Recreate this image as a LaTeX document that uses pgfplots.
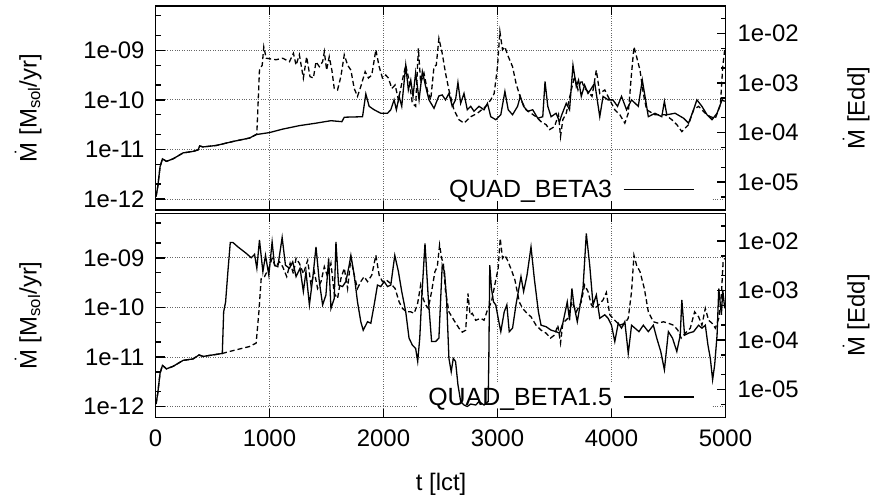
\documentclass[border=0pt]{standalone}
\usepackage{fontspec}
\setmainfont{Liberation Sans}
\usepackage{pgfplots}
\pgfplotsset{compat=1.18}

\pgfplotsset{
  every axis/.append style={font=\fontsize{24}{28}\selectfont},
  common/.style={
    scale only axis, width=570bp, height=204bp,
    xmin=0, xmax=5000,
    tick align=inside,
    major tick length=9bp, minor tick length=5bp,
    tick style={black, line width=1.4bp},
    axis line style={line width=1.8bp},
    clip=true,
  },
  gridax/.style={
    scale only axis, width=570bp, height=204bp,
    xmin=0, xmax=5000, ymin=-12.222, ymax=-8.106,
    xtick={1000,2000,3000,4000}, ytick={-12,-11,-10,-9},
    xticklabels={}, yticklabels={},
    grid=major, major grid style={dotted, black!60, line width=0.8bp},
    axis line style={draw=none}, tick style={draw=none},
  },
  ytickax/.style={
    common, ymin=-12.222, ymax=-8.106,
    axis line style={draw=none},
    xtick=\empty, ytick pos=left,
    ytick={-12,-11,-10,-9}, yticklabels={},
    minor ytick={-11.699,-11.301,-10.699,-10.301,-9.699,-9.301,-8.699,-8.301},
  },
  xtickax/.style={
    common, ymin=-12.222, ymax=-8.106,
    axis line style={draw=none},
    ytick=\empty, xtick pos=both,
    xtick={1000,2000,3000,4000}, xticklabels={},
  },
  panel/.style={
    common,
    ymin=-12.222, ymax=-8.106,
    xtick={0,1000,2000,3000,4000,5000},
    ytick={-12,-11,-10,-9}, yticklabels={1e-12,1e-11,1e-10,1e-09},
    ytick pos=left, xtick pos=both,
    yticklabel style={xshift=-7.5bp},
    ylabel={$\dot{\mbox{M}}$ [M\textsubscript{sol}/yr]},
    ylabel style={at={(axis description cs:-0.2237,0.5)}, anchor=center},
    legend style={draw=none, fill=none, legend plot pos=right, legend cell align=right,
      anchor=east, inner sep=0pt, row sep=0pt, column sep=9bp,
      font=\fontsize{25}{29}\selectfont},
    legend image code/.code={\draw[#1] (0bp,0bp) -- (70bp,0bp);},
  },
  rpanel/.style={
    common,
    ymin=-5.562, ymax=-1.446,
    axis line style={draw=none},
    xtick=\empty, ytick pos=right,
    ytick={-5,-4,-3,-2}, yticklabels={1e-05,1e-04,1e-03,1e-02},
    minor ytick={-5.301,-4.699,-4.301,-3.699,-3.301,-2.699,-2.301,-1.699},
    yticklabel style={xshift=8.5bp},
    ylabel={$\dot{\mbox{M}}$ [Edd]},
    ylabel style={at={(axis description cs:1.229,0.5)}, anchor=center},
  },
  sline/.style={black, line width=1.3bp, solid},
  dline/.style={black, line width=1.3bp, dash pattern=on 5bp off 3bp},
}

\begin{document}
\begin{tikzpicture}
% ---------------- top panel ----------------
\begin{axis}[gridax, at={(0,207.5bp)}, anchor=south west]
\end{axis}
\begin{axis}[panel, at={(0,207.5bp)}, anchor=south west, xticklabels={},
  legend style={at={(axis description cs:0.9456,0.10)}}]
\fill[white] (axis cs:2496,-12.04) rectangle (axis cs:4882,-11.536);
\addplot[dline, forget plot] table {
5 -11.95
20 -11.75
40 -11.35
61 -11.19
96 -11.24
154 -11.19
242 -11.07
329 -11.04
373 -11.01
388 -10.93
417 -10.95
533 -10.92
679 -10.84
825 -10.77
883 -10.70
889 -10.68
912 -9.40
936 -9.30
950 -8.93
971 -9.16
1058 -9.19
1116 -9.16
1175 -9.23
1210 -9.06
1233 -9.30
1262 -9.09
1297 -9.56
1326 -9.13
1355 -9.53
1385 -9.56
1408 -9.23
1437 -9.33
1466 -9.23
1481 -9.03
1501 -9.40
1524 -9.13
1547 -9.40
1568 -9.77
1597 -9.80
1626 -9.53
1656 -9.09
1685 -9.30
1714 -9.40
1743 -9.77
1772 -9.93
1801 -9.73
1839 -9.43
1868 -9.56
1897 -9.50
1933 -8.99
1962 -9.33
1991 -9.56
2020 -9.50
2043 -9.56
2073 -9.77
2102 -9.70
2131 -10.00
2166 -9.60
2195 -9.30
2224 -9.60
2253 -10.07
2282 -10.13
2306 -8.96
2326 -9.66
2355 -9.46
2384 -9.80
2414 -10.00
2443 -9.33
2463 -9.30
2486 -8.76
2515 -9.06
2544 -9.46
2574 -9.80
2618 -10.20
2662 -10.40
2706 -10.47
2765 -10.34
2824 -10.27
2897 -10.13
2941 -10.00
2971 -9.87
3000 -9.33
3021 -8.62
3044 -8.99
3065 -8.93
3088 -9.09
3132 -9.33
3162 -9.66
3206 -10.00
3250 -10.20
3294 -10.27
3338 -10.34
3382 -10.44
3426 -10.50
3456 -10.60
3500 -10.54
3535 -10.30
3553 -10.74
3573 -10.40
3603 -10.27
3647 -9.80
3676 -9.53
3706 -9.80
3735 -9.60
3764 -9.77
3794 -9.83
3829 -9.93
3867 -9.40
3897 -9.87
3941 -9.80
3985 -10.00
4029 -10.20
4073 -10.30
4117 -10.47
4147 -10.27
4176 -9.46
4197 -8.93
4220 -9.13
4250 -9.40
4279 -9.87
4308 -10.20
4382 -10.30
4470 -10.30
4529 -10.40
4573 -10.50
4617 -10.64
4676 -10.50
4720 -10.20
4764 -10.13
4823 -10.27
4867 -10.34
4911 -10.37
4955 -10.10
4976 -9.33
4993 -8.99
};
\addplot[sline] table {
5 -11.95
20 -11.75
40 -11.35
61 -11.19
96 -11.24
154 -11.19
242 -11.07
329 -11.04
373 -11.01
388 -10.93
417 -10.95
533 -10.92
679 -10.84
825 -10.77
883 -10.70
1000 -10.66
1116 -10.59
1262 -10.52
1408 -10.47
1539 -10.42
1635 -10.44
1656 -10.35
1816 -10.34
1845 -9.88
1874 -10.13
1918 -10.20
1976 -10.27
2035 -10.27
2064 -10.20
2093 -10.00
2113 -10.20
2137 -9.93
2160 -10.13
2195 -9.30
2218 -9.80
2239 -9.60
2259 -9.93
2282 -9.45
2312 -10.00
2341 -9.43
2370 -9.73
2399 -10.00
2443 -10.17
2486 -9.92
2515 -9.90
2544 -10.00
2574 -9.87
2603 -10.13
2632 -10.00
2653 -9.65
2677 -10.07
2706 -9.87
2735 -10.20
2765 -10.13
2794 -10.23
2838 -10.13
2882 -10.20
2912 -10.07
2941 -10.34
2985 -10.40
3029 -10.30
3065 -9.83
3094 -10.20
3132 -10.30
3176 -10.13
3200 -9.93
3229 -10.13
3265 -10.23
3309 -10.20
3353 -10.37
3397 -10.34
3417 -9.63
3441 -10.13
3470 -10.34
3514 -10.27
3544 -10.44
3564 -10.30
3603 -10.07
3632 -10.20
3662 -9.30
3691 -9.73
3711 -9.60
3735 -9.93
3764 -9.70
3794 -9.87
3823 -9.77
3853 -9.66
3897 -10.34
3926 -9.93
3970 -10.00
4012 -10.00
4053 -10.13
4088 -9.93
4132 -10.20
4176 -10.00
4235 -10.13
4270 -9.60
4299 -10.00
4323 -10.34
4382 -10.27
4441 -10.34
4464 -10.03
4485 -10.30
4558 -10.27
4632 -10.37
4676 -10.47
4720 -10.20
4749 -10.00
4793 -10.13
4838 -10.30
4882 -10.40
4926 -10.27
4970 -10.00
4993 -10.03
};
\addlegendentry{QUAD\_BETA3}
\end{axis}
\begin{axis}[ytickax, at={(0,207.5bp)}, anchor=south west]
\end{axis}
\begin{axis}[xtickax, at={(0,207.5bp)}, anchor=south west]
\end{axis}
\begin{axis}[rpanel, at={(0,207.5bp)}, anchor=south west]
\end{axis}
% ---------------- bottom panel ----------------
\begin{axis}[gridax, at={(0,0)}, anchor=south west]
\end{axis}
\begin{axis}[panel, at={(0,0)}, anchor=south west,
  xticklabels={0,1000,2000,3000,4000,5000},
  xticklabel style={yshift=-9bp},
  xlabel={t [lct]},
  xlabel style={at={(axis description cs:0.501,0)}, anchor=center, yshift=-66.5bp},
  legend style={at={(axis description cs:0.9456,0.10)}}]
\fill[white] (axis cs:2299,-12.04) rectangle (axis cs:4882,-11.53);
\addplot[dline, forget plot] table {
5 -11.95
20 -11.73
40 -11.33
61 -11.17
96 -11.24
154 -11.19
242 -11.07
329 -11.04
382 -10.96
417 -10.99
586 -10.93
650 -10.89
737 -10.84
825 -10.79
883 -10.72
907 -10.09
927 -9.42
956 -9.38
994 -9.21
1023 -9.01
1052 -9.18
1087 -9.08
1116 -9.18
1151 -9.38
1181 -9.11
1210 -9.32
1233 -9.01
1262 -9.11
1297 -9.32
1335 -9.05
1364 -9.55
1393 -9.28
1422 -9.62
1452 -9.48
1481 -9.18
1510 -9.38
1539 -9.11
1568 -9.72
1597 -9.82
1626 -9.42
1656 -9.21
1685 -9.62
1714 -9.01
1743 -9.35
1772 -9.62
1801 -9.48
1830 -9.38
1860 -9.48
1897 -9.35
1933 -8.95
1962 -9.35
1991 -9.48
2026 -9.45
2064 -9.52
2102 -9.62
2137 -9.89
2166 -10.02
2201 -10.09
2239 -10.09
2268 -10.12
2297 -9.95
2326 -9.55
2347 -9.82
2370 -9.95
2393 -10.02
2422 -9.68
2451 -9.28
2472 -9.18
2492 -8.74
2510 -9.01
2525 -9.11
2544 -9.68
2574 -10.09
2618 -10.26
2662 -10.42
2691 -10.50
2721 -10.46
2741 -9.72
2759 -10.15
2779 -10.12
2809 -10.26
2853 -10.22
2882 -10.26
2912 -10.05
2947 -9.89
2976 -9.55
3006 -9.21
3024 -8.61
3044 -9.01
3065 -8.95
3088 -9.05
3123 -9.25
3153 -9.45
3191 -9.89
3220 -10.02
3259 -10.12
3294 -10.19
3338 -10.36
3382 -10.46
3426 -10.52
3465 -10.62
3500 -10.56
3529 -10.36
3553 -10.72
3573 -10.32
3617 -10.22
3653 -9.89
3691 -10.09
3735 -9.89
3764 -9.55
3794 -9.68
3823 -9.95
3853 -10.02
3888 -9.95
3926 -9.85
3955 -9.70
3985 -10.15
4029 -10.26
4073 -10.36
4117 -10.32
4147 -10.22
4176 -9.68
4197 -8.95
4220 -9.15
4250 -9.28
4288 -9.62
4323 -10.09
4367 -10.29
4411 -10.32
4455 -10.29
4499 -10.32
4544 -10.36
4582 -10.46
4611 -10.62
4647 -10.52
4691 -10.42
4729 -10.09
4764 -10.19
4793 -10.36
4823 -10.02
4852 -10.26
4882 -10.32
4911 -10.42
4941 -10.22
4964 -9.75
4979 -9.08
4993 -9.01
};
\addplot[sline] table {
5 -11.95
20 -11.73
40 -11.33
61 -11.17
96 -11.24
154 -11.19
242 -11.07
329 -11.04
382 -10.96
417 -10.99
586 -10.93
598 -10.09
615 -9.89
635 -9.28
656 -8.69
679 -8.69
723 -8.78
796 -8.91
840 -9.00
869 -8.93
889 -9.21
912 -8.64
942 -9.28
965 -8.95
994 -9.35
1023 -8.68
1044 -9.15
1073 -9.18
1111 -8.59
1140 -9.15
1175 -9.21
1204 -9.08
1233 -9.38
1268 -9.21
1297 -9.68
1320 -9.28
1350 -9.95
1379 -9.42
1408 -8.78
1437 -9.48
1466 -9.95
1495 -9.75
1519 -9.01
1539 -10.02
1568 -9.82
1583 -8.68
1606 -9.55
1641 -9.58
1670 -9.48
1699 -9.15
1714 -8.95
1743 -9.35
1772 -9.89
1801 -10.29
1822 -10.46
1860 -10.29
1889 -10.32
1918 -9.95
1947 -9.55
1976 -9.58
2006 -9.48
2035 -9.58
2064 -9.55
2099 -8.95
2131 -9.28
2160 -9.68
2195 -10.09
2224 -10.62
2253 -10.76
2282 -10.83
2300 -11.09
2318 -10.62
2335 -9.82
2364 -8.71
2393 -9.82
2422 -10.69
2457 -10.69
2486 -10.62
2515 -9.15
2535 -9.28
2553 -9.82
2574 -11.03
2594 -11.30
2612 -11.03
2632 -11.09
2653 -11.56
2677 -11.90
2706 -11.97
2735 -12.00
2765 -11.95
2809 -11.97
2838 -11.90
2882 -11.97
2918 -11.90
2924 -11.03
2932 -9.15
2947 -9.62
2965 -9.89
2985 -9.95
3006 -10.22
3029 -10.49
3059 -10.09
3082 -9.95
3103 -10.49
3132 -10.42
3162 -9.95
3206 -9.38
3229 -9.68
3259 -9.35
3294 -8.78
3323 -9.42
3359 -10.09
3382 -10.36
3426 -10.39
3470 -10.46
3514 -10.49
3544 -10.52
3573 -10.32
3594 -10.09
3612 -9.89
3632 -10.26
3653 -9.62
3670 -9.95
3700 -10.29
3720 -10.02
3750 -9.62
3779 -8.51
3809 -9.15
3838 -9.95
3867 -9.75
3897 -10.22
3941 -10.15
3970 -10.22
4000 -10.36
4029 -10.69
4059 -10.32
4088 -10.42
4117 -10.29
4147 -10.93
4176 -10.36
4206 -10.42
4241 -10.49
4279 -10.36
4323 -10.49
4367 -10.36
4397 -10.62
4432 -10.89
4464 -11.26
4499 -10.49
4535 -10.62
4573 -10.89
4603 -10.56
4617 -9.85
4641 -10.56
4676 -10.52
4720 -10.49
4764 -10.36
4793 -10.42
4823 -10.36
4846 -10.76
4867 -11.03
4887 -11.46
4905 -11.16
4926 -10.56
4941 -9.62
4964 -10.15
4976 -9.65
4993 -10.02
};
\addlegendentry{QUAD\_BETA1.5}
\end{axis}
\begin{axis}[ytickax, at={(0,0)}, anchor=south west]
\end{axis}
\begin{axis}[xtickax, at={(0,0)}, anchor=south west]
\end{axis}
\begin{axis}[rpanel, at={(0,0)}, anchor=south west]
\end{axis}
\pgfresetboundingbox
\path[use as bounding box] (-155.5bp,-78.5bp) rectangle (714.5bp,417.5bp);
\end{tikzpicture}
\end{document}
